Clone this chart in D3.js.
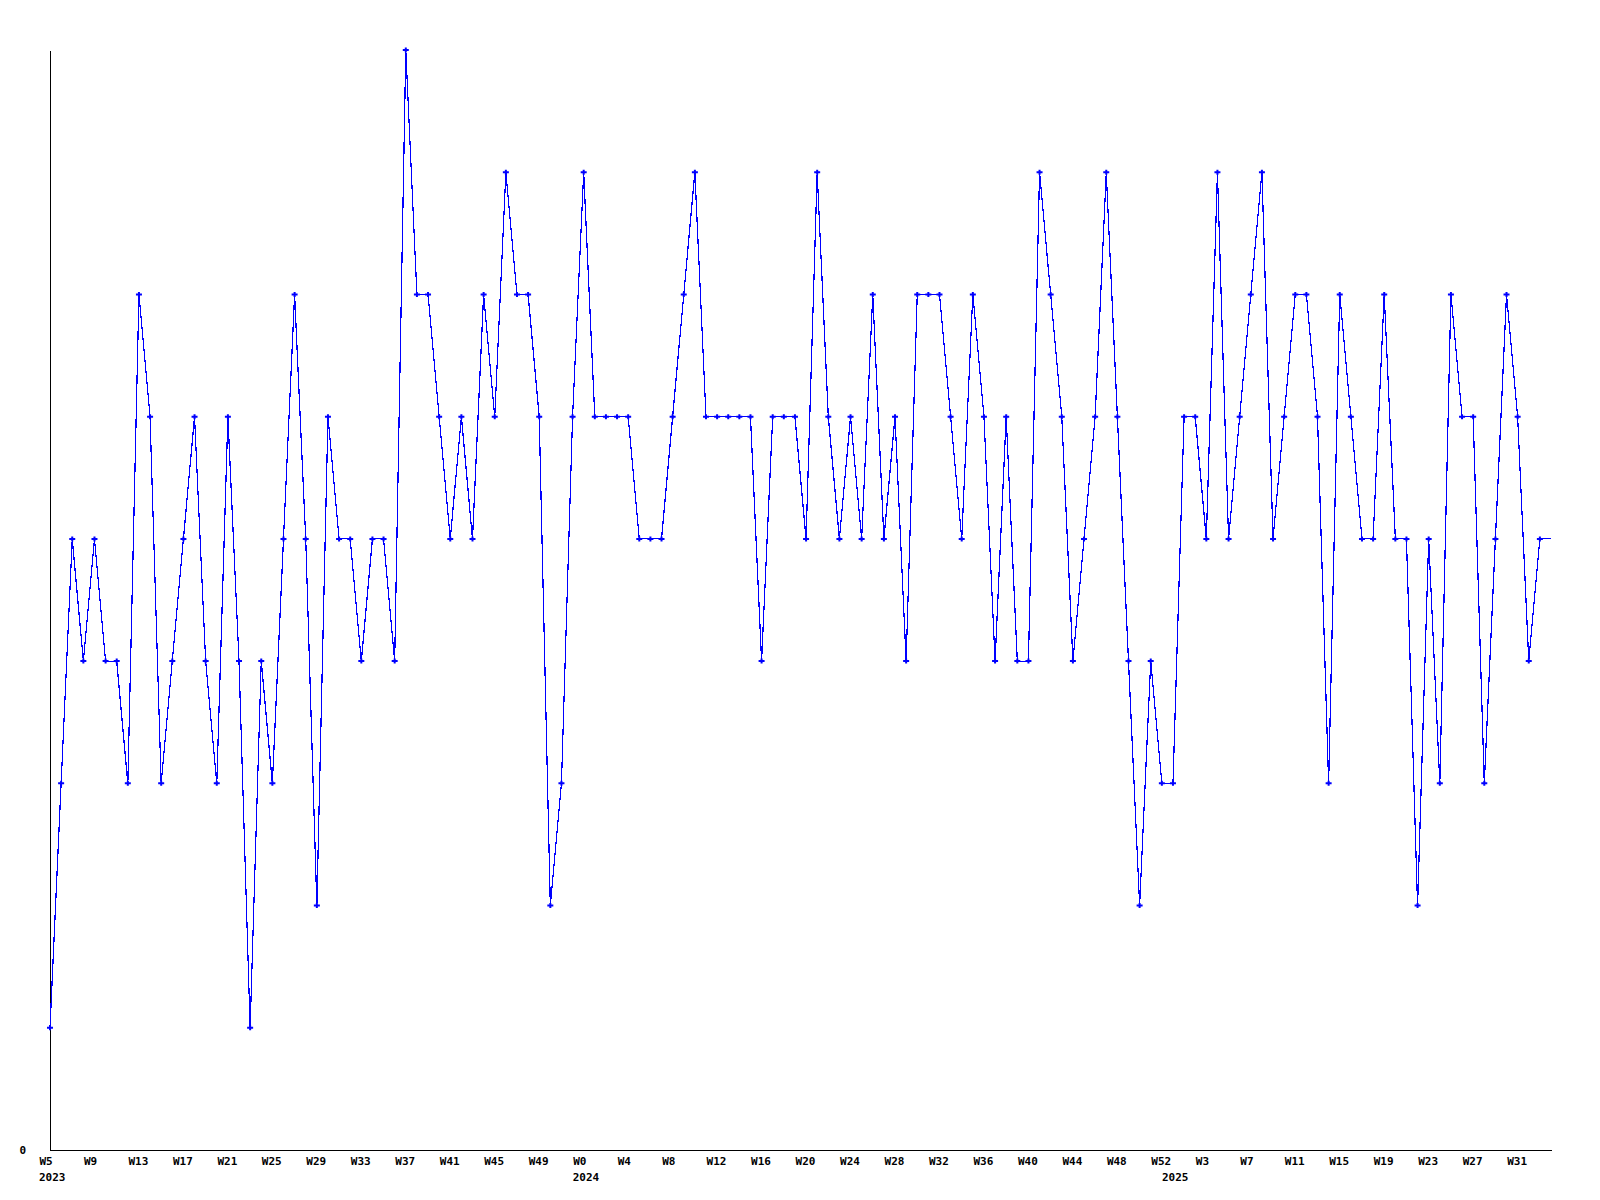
<!DOCTYPE html>
<html>
<head>
<meta charset="utf-8">
<script src="https://cdn.jsdelivr.net/npm/d3@7"></script>
<style>
  html, body { margin: 0; padding: 0; background: #ffffff; }
  svg { display: block; }
  text { font-family: "DejaVu Sans Mono", "Liberation Mono", monospace; font-weight: bold; font-size: 11px; fill: #000; }
</style>
</head>
<body>
<svg id="chart" width="1600" height="1200"></svg>
<script>
// ---- data ----
const years = ["2023", "2024", "2025"];
const weeks2023 = d3.range(5, 53);   // W5 .. W52
const weeks2024 = d3.range(0, 53);   // W0 .. W52
const weeks2025 = d3.range(0, 35);   // W0 .. W34 (last week incomplete)
const values = [
  1,3,5,4,5,4,4,3,7,6,3,4,5,6,4,3,6,4,1,4,3,5,7,
  5,2,6,5,5,4,5,5,4,9,7,7,6,5,6,5,7,6,8,7,7,6,2,
  3,6,8,6,6,6,6,5,5,5,6,7,8,6,6,6,6,6,4,6,6,6,
  5,8,6,5,6,5,7,5,6,4,7,7,7,6,5,7,6,4,6,4,4,8,7,
  6,4,5,6,8,6,4,2,4,3,3,6,6,5,8,5,6,7,8,5,6,7,7,6,3,7,6,5,5,7,5,5,2,5,3,7,6,6,3,5,7,6,4,5,5
];
const yTickValues = [0];
const yMax = 9;
const labelEvery = 4;

// ---- build categories ----
const categories = [];
[[years[0], weeks2023], [years[1], weeks2024], [years[2], weeks2025]].forEach(([yr, wk]) => {
  wk.forEach((w, i) => categories.push({ year: yr, week: "W" + w, firstOfYear: i === 0 }));
});
const data = categories.map((c, i) => ({ i, ...c, value: values[i] }));

// ---- layout ----
const svg = d3.select("#chart");
const x = d3.scaleLinear().domain([0, data.length - 1]).range([50, 1551]);
const y = d3.scaleLinear().domain([0, yMax]).range([1150, 50]);

// axes
const xAxis = d3.axisBottom(x)
  .tickValues(data.filter(d => d.i % labelEvery === 0).map(d => d.i))
  .tickFormat(i => data[i].week)
  .tickSize(0).tickSizeOuter(0).tickPadding(0);
const gx = svg.append("g").attr("transform", `translate(0,${y(0)})`).call(xAxis);
gx.select(".domain").attr("stroke", "#000").attr("shape-rendering", "crispEdges");
gx.selectAll(".tick text")
  .attr("text-anchor", "start").attr("dx", -11).attr("y", 15).attr("dy", 0)
  .style("font-family", "'DejaVu Sans Mono', monospace").style("font-weight", "bold").style("font-size", "11px");

// year labels
svg.append("g").selectAll("text")
  .data(data.filter(d => d.firstOfYear))
  .join("text")
  .attr("x", d => x(d.i) - 11)
  .attr("y", y(0) + 31)
  .text(d => d.year);

const yAxis = d3.axisLeft(y).tickValues(yTickValues).tickFormat(d3.format("d"))
  .tickSize(0).tickSizeOuter(0).tickPadding(24);
const gy = svg.append("g").attr("transform", `translate(${x(0)},0)`).call(yAxis);
gy.select(".domain").attr("stroke", "#000").attr("shape-rendering", "crispEdges");
gy.selectAll(".tick text")
  .style("font-family", "'DejaVu Sans Mono', monospace").style("font-weight", "bold").style("font-size", "11px");

// line
const line = d3.line().x(d => x(d.i)).y(d => y(d.value));
svg.append("path")
  .datum(data)
  .attr("fill", "none")
  .attr("stroke", "#0000ff")
  .attr("stroke-width", 1.2)
  .attr("shape-rendering", "crispEdges")
  .attr("d", line);

// markers (last week is incomplete: no marker)
svg.append("g").selectAll("path")
  .data(data.slice(0, data.length - 1))
  .join("path")
  .attr("transform", d => `translate(${x(d.i)},${y(d.value)})`)
  .attr("d", "M-3,0H3M0,-2.5V2.5")
  .attr("stroke", "#0000ff")
  .attr("stroke-width", 2);
</script>
</body>
</html>
